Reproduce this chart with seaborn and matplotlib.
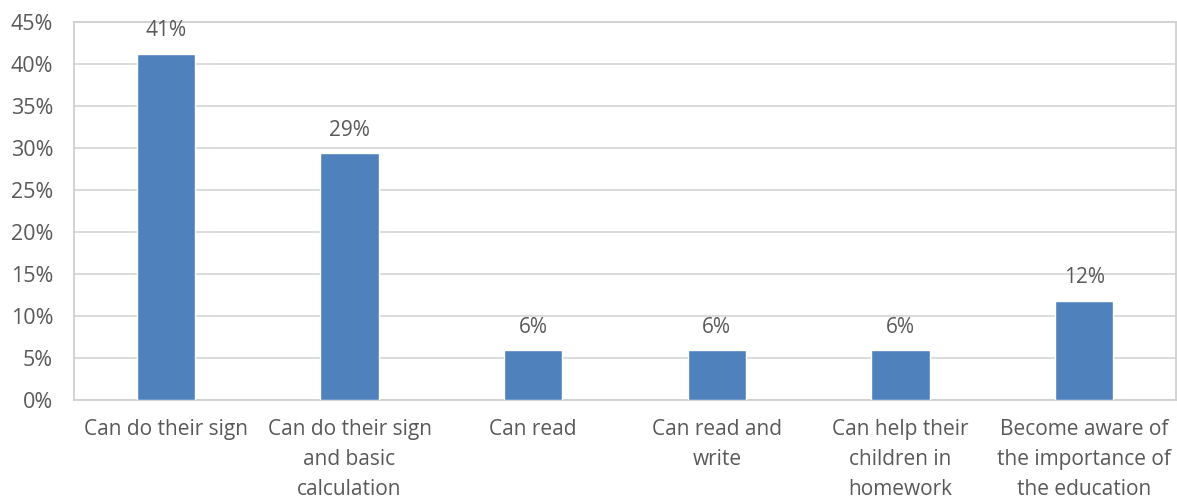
import matplotlib
matplotlib.use("Agg")
import matplotlib.pyplot as plt
import seaborn as sns
import pandas as pd
from matplotlib.ticker import FuncFormatter, MultipleLocator

categories = ["Can do their sign", "Can do their sign\nand basic\ncalculation", "Can read",
              "Can read and\nwrite", "Can help their\nchildren in\nhomework",
              "Become aware of\nthe importance of\nthe education"]
values = [41.2, 29.4, 5.9, 5.9, 5.9, 11.8]
labels = ["41%", "29%", "6%", "6%", "6%", "12%"]

sns.set_theme(style="white")
plt.rcParams['font.family'] = ['Open Sans', 'DejaVu Sans']
text_color = "#595959"

df = pd.DataFrame({"cat": categories, "val": values})
fig = plt.figure(figsize=(11.77, 4.98), dpi=100)
ax = fig.add_axes([74/1177, 1 - 400/498, (1176-74)/1177, (400-22)/498])
sns.barplot(data=df, x="cat", y="val", color="#4F81BD", width=0.316, saturation=1, ax=ax, zorder=3)

ax.set_ylim(0, 45)
ax.yaxis.set_major_locator(MultipleLocator(5))
ax.yaxis.set_major_formatter(FuncFormatter(lambda v, p: f"{int(round(v))}%"))
ax.grid(axis="y", color="#D9D9D9", linewidth=1.3, zorder=0)
ax.set_axisbelow(True)
for s in ax.spines.values():
    s.set_color("#D0D0D0")
    s.set_linewidth(1.3)
ax.set_xlabel("")
ax.set_ylabel("")
ax.tick_params(axis="x", length=0, labelsize=15, colors=text_color, pad=14)
ax.tick_params(axis="y", length=0, labelsize=15.5, colors=text_color, pad=15)
for lbl in ax.get_xticklabels():
    lbl.set_linespacing(1.55)
    lbl.set_verticalalignment("top")

for i, (v, t) in enumerate(zip(values, labels)):
    ax.annotate(t, (i, v), xytext=(0, 9), textcoords="offset points", ha="center", va="bottom",
                fontsize=15, color=text_color)

fig.savefig("out.png", dpi=100)
